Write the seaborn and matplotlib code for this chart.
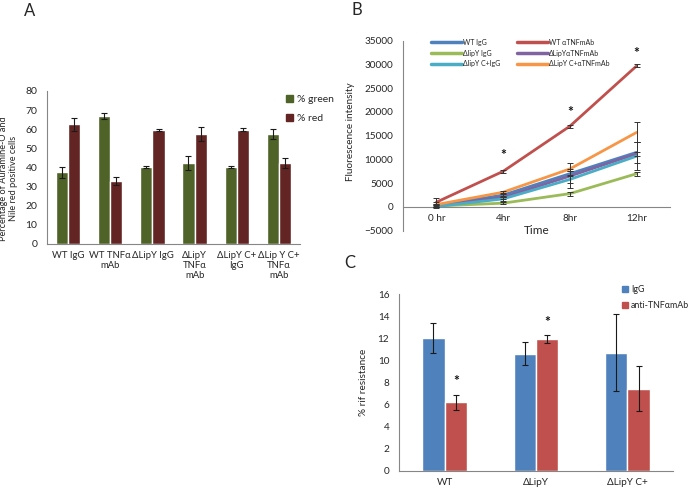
import numpy as np
import pandas as pd
import matplotlib
matplotlib.use("Agg")
import matplotlib.pyplot as plt
from matplotlib.lines import Line2D
from matplotlib.patches import Patch
import seaborn as sns

sns.set_style("white")
plt.rcParams['font.family'] = ['Lato', 'DejaVu Sans']

# ---------------- Panel A data ----------------
a_categories = ["WT IgG", "WT TNFα\nmAb", "ΔLipY IgG", "ΔLipY\nTNFα\nmAb", "ΔLipY C+\nIgG", "ΔLip Y C+\nTNFα\nmAb"]
a_series = ["% green", "% red"]
a_green = [37.5, 66.8, 40.3, 42.5, 40.3, 57.5]
a_green_err = [3.0, 1.5, 0.7, 3.6, 0.7, 2.6]
a_red = [62.5, 33.0, 59.5, 57.5, 59.8, 42.3]
a_red_err = [3.3, 2.0, 0.6, 3.8, 0.7, 2.7]
a_colors = ["#4F6228", "#632523"]
a_yticks = [0, 10, 20, 30, 40, 50, 60, 70, 80]

# ---------------- Panel B data ----------------
b_times = ["0 hr", "4hr", "8hr", "12hr"]
b_series = ["WT IgG", "WT αTNFmAb", "ΔlipY IgG", "ΔLipYαTNFmAb", "ΔlipY C+IgG", "ΔLipY C+αTNFmAb"]
b_values = {
    "WT IgG":          [300, 2500, 7000, 11500],
    "WT αTNFmAb":      [1000, 7500, 17000, 29700],
    "ΔlipY IgG":       [200, 800, 2800, 7000],
    "ΔLipYαTNFmAb":    [300, 2000, 6500, 11200],
    "ΔlipY C+IgG":     [100, 1700, 5800, 10700],
    "ΔLipY C+αTNFmAb": [500, 3100, 8000, 15700],
}
b_errors = {
    "WT IgG":          [400, 400, 500, 2200],
    "WT αTNFmAb":      [800, 300, 300, 300],
    "ΔlipY IgG":       [300, 200, 400, 400],
    "ΔLipYαTNFmAb":    [400, 400, 1500, 400],
    "ΔlipY C+IgG":     [300, 400, 1800, 3000],
    "ΔLipY C+αTNFmAb": [500, 300, 1200, 2100],
}
b_colors = ["#4F81BD", "#C0504D", "#9BBB59", "#8064A2", "#4BACC6", "#F79646"]
b_star_x = [1, 2, 3]
b_star_y = [11000, 20000, 32500]
b_yticks = [-5000, 0, 5000, 10000, 15000, 20000, 25000, 30000, 35000]

# ---------------- Panel C data ----------------
c_categories = ["WT", "ΔLipY", "ΔLipY C+"]
c_series = ["IgG", "anti-TNFαmAb"]
c_igg = [12.0, 10.6, 10.7]
c_igg_err = [1.35, 1.05, 3.5]
c_anti = [6.2, 11.9, 7.45]
c_anti_err = [0.7, 0.35, 2.0]
c_colors = ["#4F81BD", "#C0504D"]
c_star_cat = [0, 1]
c_star_y = [8.1, 13.5]
c_yticks = [0, 2, 4, 6, 8, 10, 12, 14, 16]

AXCOL = "#868686"
TXT = "#262626"

W, H = 697, 492
fig = plt.figure(figsize=(W / 100, H / 100), dpi=100)


def px_axes(l, t, r, b):
    return fig.add_axes([l / W, 1 - b / H, (r - l) / W, (b - t) / H])


def style_axes(ax, ncat, fs):
    for s in ["top", "right"]:
        ax.spines[s].set_visible(False)
    for s in ["left", "bottom"]:
        ax.spines[s].set_color(AXCOL)
        ax.spines[s].set_linewidth(0.8)
    ax.set_xlim(-0.5, ncat - 0.5)
    ax.set_xticks(range(ncat))
    ax.set_xticks(np.arange(-0.5, ncat, 1.0), minor=True)
    ax.tick_params(axis="x", which="major", length=0, labelsize=fs, colors=TXT, pad=5)
    ax.tick_params(axis="x", which="minor", length=4, color=AXCOL, width=0.8, direction="out")
    ax.tick_params(axis="y", length=4, color=AXCOL, width=0.8, labelsize=fs, labelcolor=TXT, pad=3)
    ax.grid(False)


def add_err(ax, containers, errs):
    for cont, err in zip(containers, errs):
        xs = [p.get_x() + p.get_width() / 2 for p in cont.patches]
        ys = [p.get_height() for p in cont.patches]
        ax.errorbar(xs, ys, yerr=err, fmt="none", ecolor="#1a1a1a",
                    elinewidth=0.8, capsize=2.5, capthick=0.8, zorder=5)


# ================= Panel A =================
axA = px_axes(47, 91, 300, 244)
dfA = pd.DataFrame({
    "cat": a_categories * 2,
    "series": [a_series[0]] * len(a_categories) + [a_series[1]] * len(a_categories),
    "val": a_green + a_red,
})
sns.barplot(data=dfA, x="cat", y="val", hue="series", hue_order=a_series,
            palette=a_colors, width=0.58, gap=0, saturation=1, errorbar=None,
            legend=False, ax=axA)
add_err(axA, axA.containers[:2], [a_green_err, a_red_err])
style_axes(axA, len(a_categories), 7.5)
axA.set_ylim(0, 80)
axA.set_yticks(a_yticks)
axA.set_xticklabels(a_categories, linespacing=1.15, fontsize=6.8)
axA.set_xlabel("")
axA.set_ylabel("Percentage of Auramine-O and\nNile red positive cells", fontsize=6.6,
               color=TXT, linespacing=1.15)
axA.yaxis.set_label_coords(-0.115, 0.43)
axA.legend(handles=[Patch(color=c) for c in a_colors], labels=a_series,
           loc="upper left", bbox_to_anchor=(0.93, 1.0), frameon=False,
           fontsize=7.5, handlelength=0.6, handleheight=0.6, handletextpad=0.4,
           labelspacing=0.95, borderaxespad=0)

# ================= Panel B =================
axB = px_axes(403, 40.7, 670, 230.7)
rows = []
for s in b_series:
    for i, v in enumerate(b_values[s]):
        rows.append({"t": i, "series": s, "val": v})
dfB = pd.DataFrame(rows)
sns.lineplot(data=dfB, x="t", y="val", hue="series", hue_order=b_series,
             palette=dict(zip(b_series, b_colors)), linewidth=2.0, sort=False,
             legend=True, ax=axB)
for s in b_series:
    axB.errorbar(range(len(b_times)), b_values[s], yerr=b_errors[s], fmt="none",
                 ecolor="#333333", elinewidth=0.7, capsize=2.5, capthick=0.7, zorder=6)
for x, y in zip(b_star_x, b_star_y):
    axB.text(x, y, "*", ha="center", va="center", fontsize=10, fontweight="bold", color="#111111")
style_axes(axB, len(b_times), 7.2)
axB.set_ylim(-5000, 35000)
axB.set_yticks(b_yticks)
axB.spines["bottom"].set_position(("data", 0))
axB.set_xticks(range(len(b_times)))
axB.set_xticklabels(b_times)
axB.set_xlabel("")
axB.text(0.5, 0.0, "Time", transform=axB.transAxes, ha="center", va="center",
         fontsize=8.5, color=TXT)
axB.set_ylabel("Fluorescence intensity", fontsize=7.2, color=TXT)
axB.yaxis.set_label_coords(-0.18, 0.52)
leg = axB.get_legend()
hmap = dict(zip([t.get_text() for t in leg.get_texts()], leg.legend_handles))
leg.remove()
order = [b_series[0], b_series[2], b_series[4], b_series[1], b_series[3], b_series[5]]
handles = [Line2D([0], [0], color=hmap[s].get_color(), linewidth=2.5) for s in order]
axB.legend(handles=handles, labels=order, ncol=2, loc="upper left",
           bbox_to_anchor=(0.095, 1.025), frameon=False, fontsize=5,
           handlelength=4.5, handletextpad=0.1, columnspacing=2.4,
           labelspacing=0.55, borderaxespad=0)

# ================= Panel C =================
axC = px_axes(399, 294, 673, 471)
dfC = pd.DataFrame({
    "cat": c_categories * 2,
    "series": [c_series[0]] * len(c_categories) + [c_series[1]] * len(c_categories),
    "val": c_igg + c_anti,
})
sns.barplot(data=dfC, x="cat", y="val", hue="series", hue_order=c_series,
            palette=c_colors, width=0.49, gap=0, saturation=1, errorbar=None,
            legend=False, ax=axC)
add_err(axC, axC.containers[:2], [c_igg_err, c_anti_err])
red_patches = axC.containers[1].patches
for ci, y in zip(c_star_cat, c_star_y):
    p = red_patches[ci]
    axC.text(p.get_x() + p.get_width() / 2, y, "*", ha="center", va="center",
             fontsize=10, fontweight="bold", color="#111111")
style_axes(axC, len(c_categories), 7.2)
axC.set_ylim(0, 16)
axC.set_yticks(c_yticks)
axC.set_xlabel("")
axC.set_ylabel("% rif resistance", fontsize=7.2, color=TXT)
axC.yaxis.set_label_coords(-0.113, 0.5)
axC.legend(handles=[Patch(color=c) for c in c_colors], labels=c_series,
           loc="upper left", bbox_to_anchor=(0.8, 1.07), frameon=False,
           fontsize=6.4, handlelength=0.65, handleheight=0.65, handletextpad=0.4,
           labelspacing=0.8, borderaxespad=0)

# Panel letters
fig.text(30 / W, 1 - 11 / H, "A", fontsize=12, ha="center", va="center", color=TXT)
fig.text(357 / W, 1 - 10 / H, "B", fontsize=12, ha="center", va="center", color=TXT)
fig.text(350 / W, 1 - 263 / H, "C", fontsize=12, ha="center", va="center", color=TXT)

fig.savefig("out.png", dpi=100)
